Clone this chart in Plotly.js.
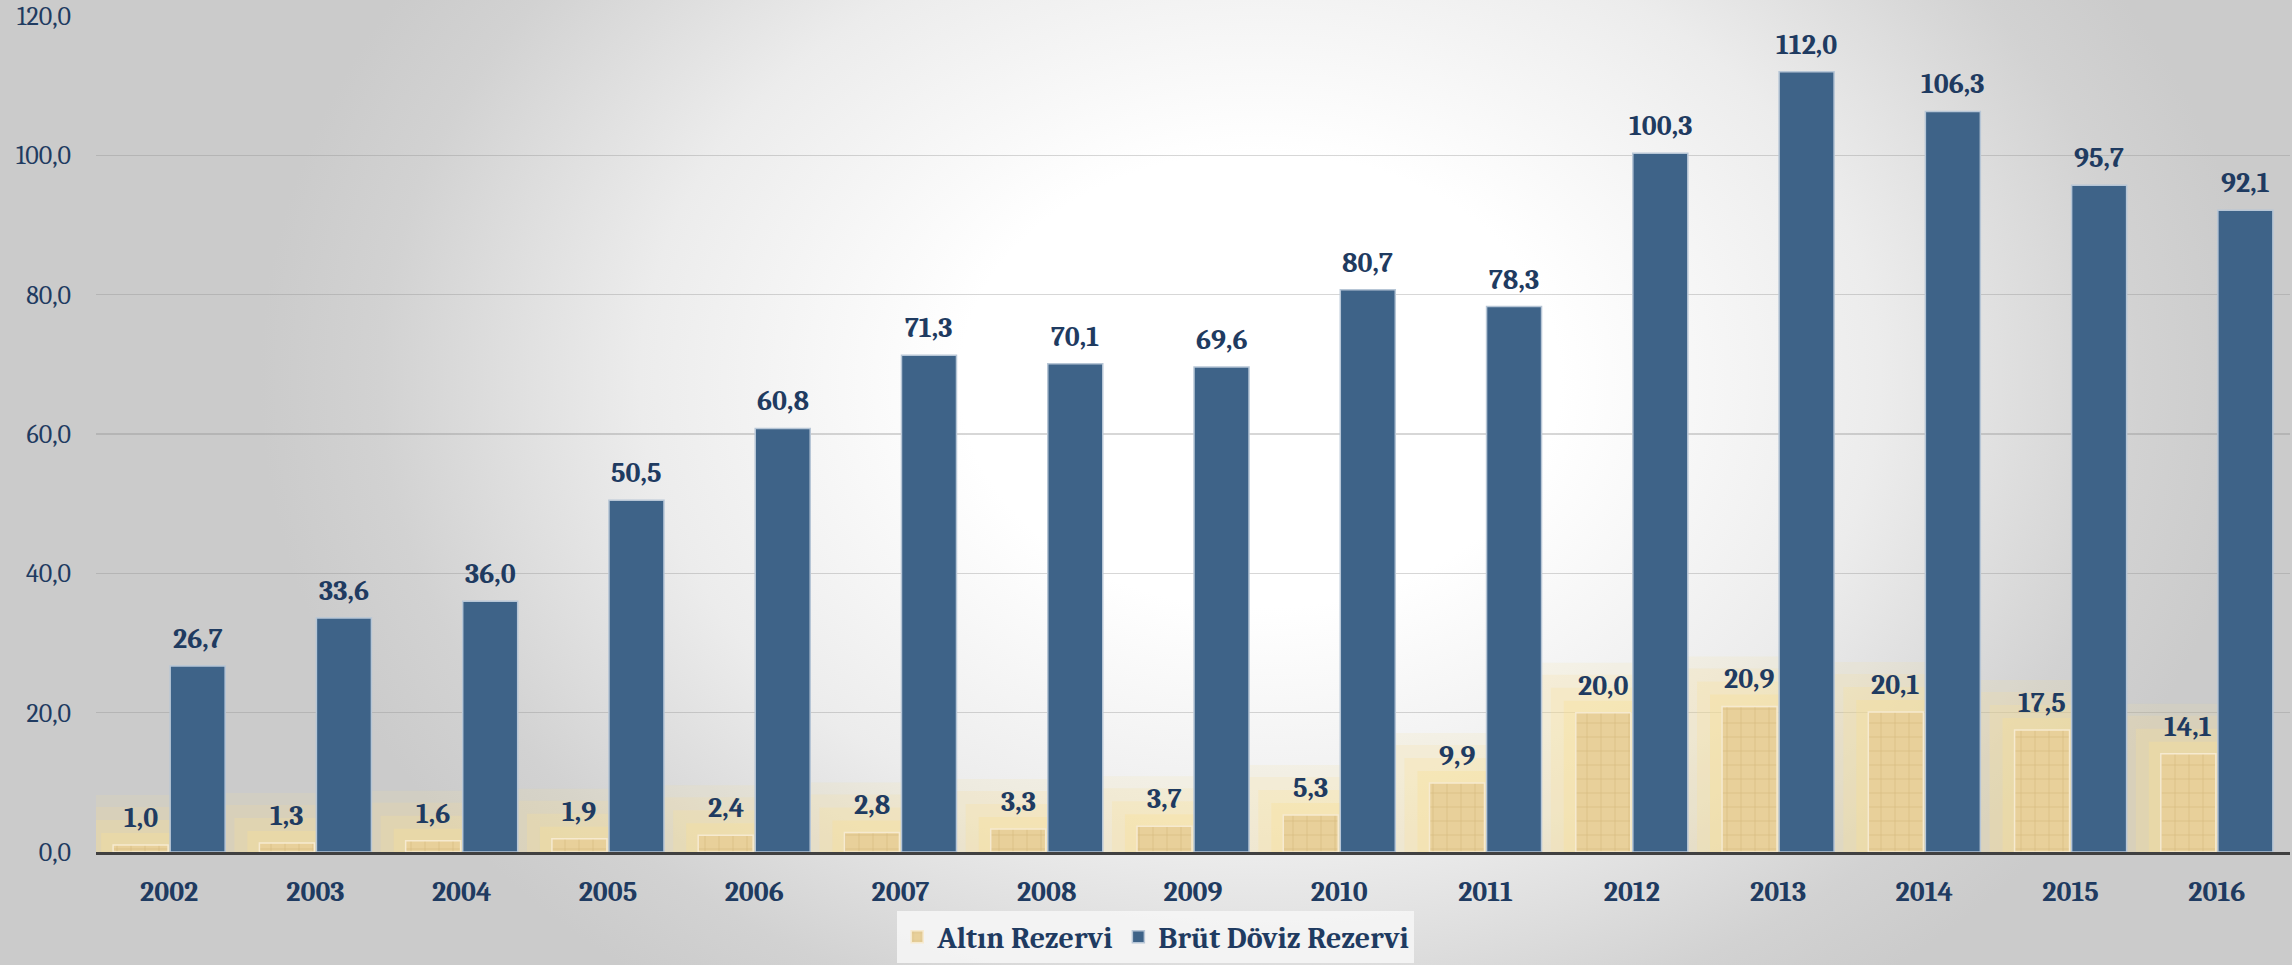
<!DOCTYPE html>
<html>
<head>
<meta charset="utf-8">
<script src="https://cdn.plot.ly/plotly-3.0.1.min.js"></script>
<style>
  html, body { margin: 0; padding: 0; }
  body {
    width: 2292px; height: 965px; overflow: hidden;
    background-color: #cbcbcb;
    background-image: radial-gradient(ellipse 1000px 760px at 1260px 380px, #ffffff 0%, #ffffff 30%, #ececec 62%, #d2d2d2 88%, #cbcbcb 100%);
  }
  #chart { width: 2292px; height: 965px; }
</style>
</head>
<body>
<div id="chart"></div>
<script>
const years = ["2002","2003","2004","2005","2006","2007","2008","2009","2010","2011","2012","2013","2014","2015","2016"];
const altinRezervi = [1.0, 1.3, 1.6, 1.9, 2.4, 2.8, 3.3, 3.7, 5.3, 9.9, 20.0, 20.9, 20.1, 17.5, 14.1];
const brutDovizRezervi = [26.7, 33.6, 36.0, 50.5, 60.8, 71.3, 70.1, 69.6, 80.7, 78.3, 100.3, 112.0, 106.3, 95.7, 92.1];
const seriesNames = ["Altın Rezervi", "Brüt Döviz Rezervi"];
const yTicks = [0, 20, 40, 60, 80, 100, 120];

const FONT = "Cambria, 'DejaVu Serif Condensed', 'DejaVu Serif', serif";
const NAVY = "#1f3b61";
const GOLD = "#e8d09a";
const BLUE = "#3e6388";

const W = 2292, H = 965;
const M = { l: 96, r: 2, t: 16, b: 111 };
const goldOffset = -0.383, blueOffset = 0.007, barW = 0.376;
const catPx = (W - M.l - M.r) / years.length;

function glow(w, a) {
  return {
    type: "bar", x: years, y: altinRezervi,
    offset: goldOffset, width: barW,
    marker: { color: "rgba(0,0,0,0)", line: { color: "rgba(250,224,150," + a + ")", width: w } },
    hoverinfo: "skip", showlegend: false
  };
}

const traces = [
  glow(100, 0.14),
  glow(76, 0.18),
  glow(50, 0.24),
  glow(24, 0.32),
  {
    type: "bar", name: seriesNames[0], x: years, y: altinRezervi,
    offset: goldOffset, width: barW,
    marker: {
      color: GOLD,
      line: { color: "#f6ead0", width: 1.5 },
      pattern: { shape: "+", size: 14, solidity: 0.08, fgcolor: "rgba(170,135,70,0.35)", bgcolor: GOLD, fillmode: "replace" }
    },
    hoverinfo: "skip"
  },
  {
    type: "bar", name: seriesNames[1], x: years, y: brutDovizRezervi,
    offset: blueOffset, width: barW,
    marker: { color: BLUE, line: { color: "#b7c6d6", width: 1.5 } },
    hoverinfo: "skip"
  }
];

function fmt(v) { return v.toFixed(1).replace(".", ","); }
const annotations = [];
[[altinRezervi, goldOffset], [brutDovizRezervi, blueOffset]].forEach(([vals, off]) => {
  vals.forEach((v, i) => {
    annotations.push({
      x: i, y: v, xref: "x", yref: "y",
      text: fmt(v), showarrow: false,
      xanchor: "center", yanchor: "bottom",
      xshift: (off + barW / 2) * catPx, yshift: 9,
      font: { family: FONT, size: 28, color: NAVY, weight: "bold" }
    });
  });
});

const layout = {
  width: W, height: H,
  margin: M,
  paper_bgcolor: "rgba(0,0,0,0)",
  plot_bgcolor: "rgba(0,0,0,0)",
  separators: ",.",
  barmode: "overlay",
  showlegend: true,
  font: { family: FONT, color: NAVY },
  annotations: annotations,
  xaxis: {
    type: "category", categoryarray: years, categoryorder: "array",
    range: [-0.5, years.length - 0.5], autorange: false,
    showgrid: false,
    showline: true, linecolor: "#404040", linewidth: 3,
    ticks: "", ticklabelstandoff: 12,
    tickfont: { family: FONT, size: 28, color: NAVY, weight: "bold" }
  },
  yaxis: {
    range: [0, 120], autorange: false, tickvals: yTicks, tickformat: ".1f",
    showgrid: true, gridcolor: "rgba(140,140,140,0.35)", gridwidth: 1.3,
    zeroline: false, showline: false, ticks: "",
    ticklabelstandoff: 24,
    tickfont: { family: FONT, size: 26, color: NAVY }
  },
  legend: {
    orientation: "h", x: 0.483, xanchor: "center", y: -0.1325, yanchor: "bottom",
    bgcolor: "rgba(245,245,245,0.9)",
    font: { family: FONT, size: 30, color: NAVY, weight: "bold" },
    traceorder: "normal", itemclick: false
  }
};

Plotly.newPlot("chart", traces, layout, { displayModeBar: false, staticPlot: true });
</script>
</body>
</html>
